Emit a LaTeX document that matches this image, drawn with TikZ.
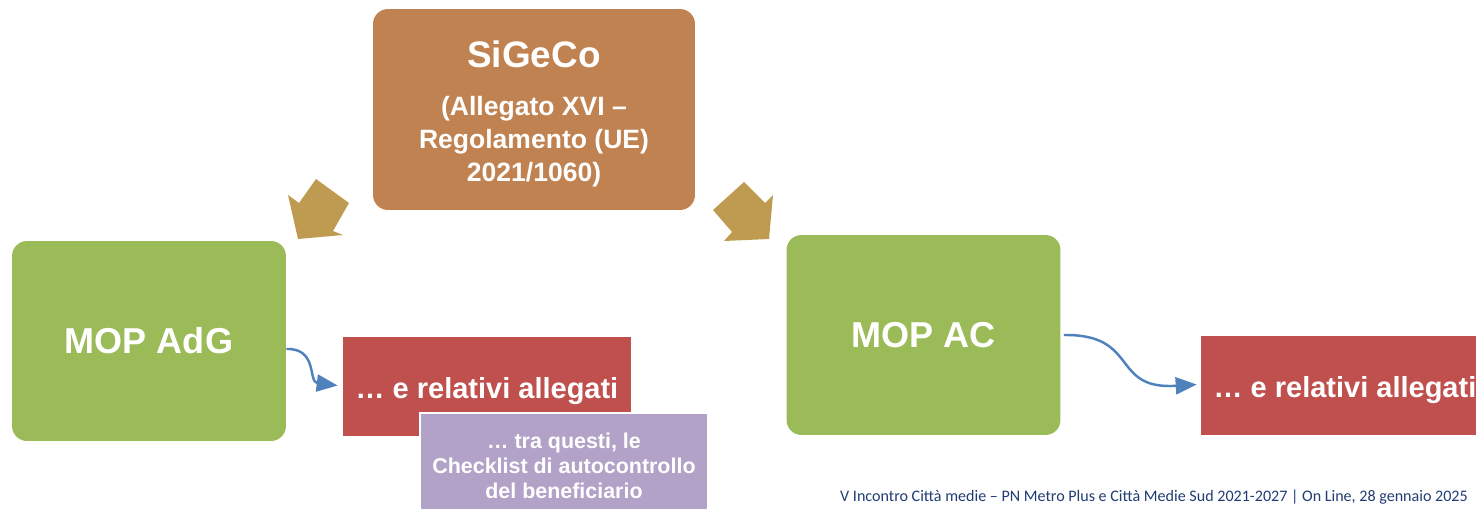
\documentclass[tikz,border=0pt]{standalone}
\usepackage{fontspec}
\setmainfont{Liberation Sans}
\newfontfamily\footfont{Carlito}
\usetikzlibrary{arrows.meta,calc}
\definecolor{sigecobrown}{RGB}{192,130,80}
\definecolor{mopgreen}{RGB}{155,187,89}
\definecolor{allred}{RGB}{192,80,77}
\definecolor{checkpurple}{RGB}{178,162,199}
\definecolor{arrowgold}{RGB}{191,155,82}
\definecolor{connblue}{RGB}{79,129,189}
\definecolor{footblue}{RGB}{32,60,115}

\begin{document}
\begin{tikzpicture}[x=0.02cm,y=-0.02cm,
    mopbox/.style={fill=mopgreen, rounded corners=0.3cm, minimum width=5.48cm, minimum height=4cm,
      inner sep=0pt, text=white, font=\bfseries\fontsize{20.5}{24}\selectfont},
    relbox/.style={fill=allred, minimum width=5.76cm, minimum height=1.98cm, inner sep=0pt,
      text height=17pt, text depth=3.5pt,
      text=white, font=\bfseries\fontsize{16.5}{20}\selectfont},
    goldarrow/.style={fill=arrowgold},
    conn/.style={draw=connblue, line width=1.4pt, -{Triangle[length=0.42cm,width=0.34cm]}}]
  \useasboundingbox (0,0) rectangle (1476,508);
  \clip (0,0) rectangle (1476,508);

  % top box
  \node[fill=sigecobrown, rounded corners=0.3cm, minimum width=6.44cm, minimum height=4.02cm, inner sep=0pt] (sigeco) at (534,109.5) {};
  \node[text=white, font=\bfseries\fontsize{21}{25}\selectfont] (sigecotitle) at (534,54) {SiGeCo};
  \node[text=white, align=center, font=\bfseries\fontsize{15.1}{18.8}\selectfont] (sigecoref) at (534,142) {(Allegato XVI --\\Regolamento (UE)\\2021/1060)};

  % gold arrows
  \fill[goldarrow] (316,179) -- (349,203) -- (333,231) -- (343,235) -- (298,239) -- (288,195) -- (299,203) -- cycle;
  \fill[goldarrow] (744,182) -- (713,210) -- (732,232) -- (724,241) -- (769,239) -- (773,195) -- (765,203) -- cycle;

  % manuals
  \node[mopbox] (adg) at (149,341) {MOP AdG};
  \node[mopbox] (ac) at (923.5,335) {MOP AC};

  % annexes
  \node[relbox] (rel1) at (487,386.5) {… e relativi allegati};
  \node[relbox] (rel2) at (1345,385.5) {… e relativi allegati};
  \node[fill=checkpurple, draw=white, line width=1pt, minimum width=5.76cm, minimum height=2.12cm, inner sep=0pt,
    text=white, align=center, font=\bfseries\fontsize{12.2}{14.2}\selectfont] (check) at (564,466)
    {… tra questi, le\\Checklist di autocontrollo\\del beneficiario};

  \draw[conn] ($(adg.east)+(0,8)$) .. controls (318,348) and (308,382) .. ($(rel1.west)+(-5,-1)$);
  \draw[conn] ($(ac.east)+(3,0)$) .. controls (1140,334) and (1110,390) .. ($(rel2.west)+(-4,-1)$);

  \node[anchor=east, text=footblue, font=\footfont\fontsize{9.15}{11}\selectfont] (foot) at (1474,497)
    {V Incontro Città medie – PN Metro Plus e Città Medie Sud 2021-2027 | On Line, 28 gennaio 2025};
\end{tikzpicture}
\end{document}
